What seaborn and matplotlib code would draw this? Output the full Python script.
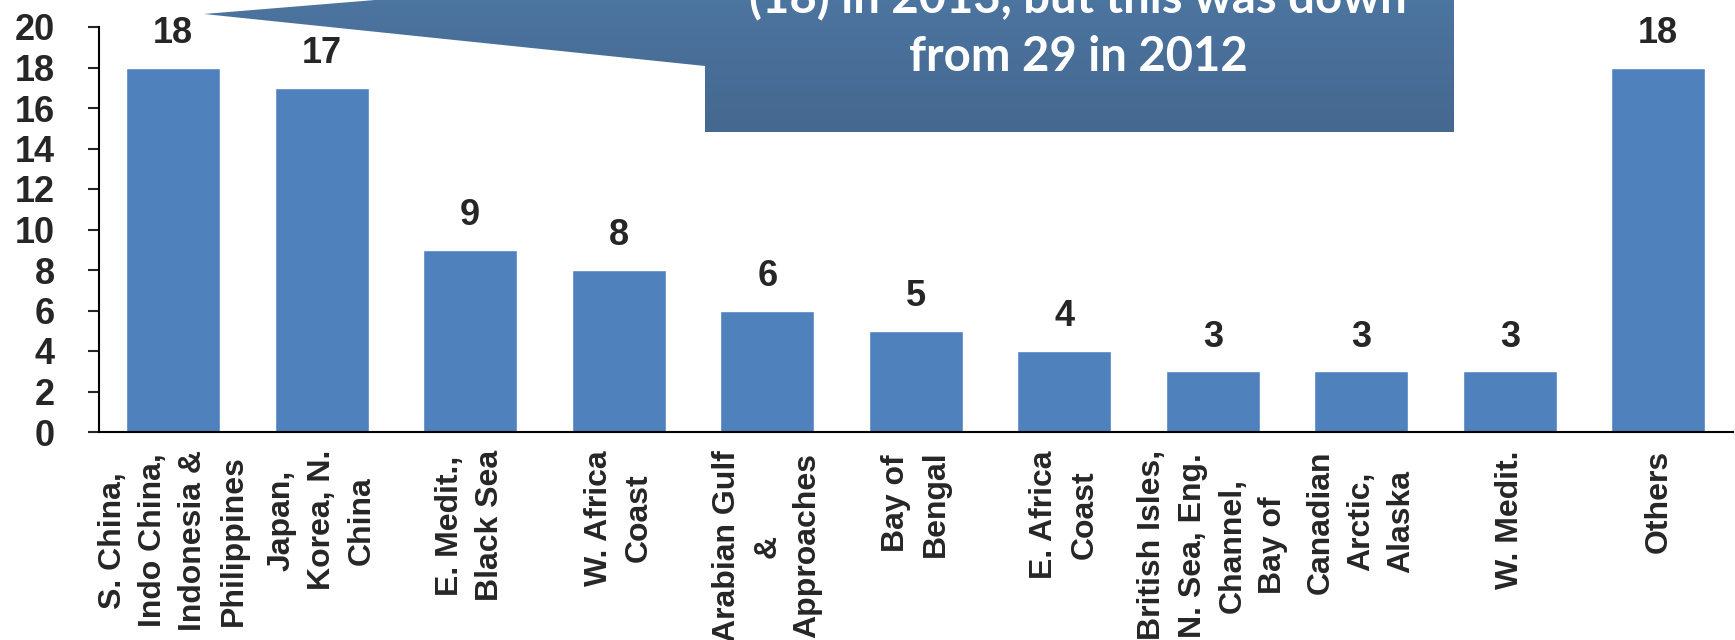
import numpy as np
import matplotlib
matplotlib.use("Agg")
import matplotlib.pyplot as plt
import seaborn as sns
from matplotlib.patches import Polygon

# 데이터
regions = ["S. China,\nIndo China,\nIndonesia &\nPhilippines",
           "Japan,\nKorea, N.\nChina",
           "E. Medit.,\nBlack Sea",
           "W. Africa\nCoast",
           "Arabian Gulf\n&\nApproaches",
           "Bay of\nBengal",
           "E. Africa\nCoast",
           "British Isles,\nN. Sea, Eng.\nChannel,\nBay of",
           "Canadian\nArctic,\nAlaska",
           "W. Medit.",
           "Others"]
losses = [18, 17, 9, 8, 6, 5, 4, 3, 3, 3, 18]
yticks = list(range(0, 21, 2))
callout_lines = ["(18) in 2013, but this was down", "from 29 in 2012"]

sns.set_style("white")
plt.rcParams['font.family'] = ['Liberation Sans', 'DejaVu Sans']

W, H = 1735, 640
fig = plt.figure(figsize=(W / 100, H / 100), dpi=100)
ax = fig.add_axes([99 / W, 1 - 432 / H, (1732.5 - 99) / W, (432 - 27) / H])

sns.barplot(x=regions, y=losses, color="#4F81BD", saturation=1,
            width=0.633, ax=ax)
ax.bar_label(ax.containers[0], padding=12, fontsize=26, fontweight='bold')

ax.set_xlim(-0.5, len(regions) - 0.5)
ax.set_ylim(0, 20)
ax.set_yticks(yticks)
ax.set_yticklabels([str(t) for t in yticks], fontsize=26, fontweight='bold')
ax.set_xticks(np.arange(-0.5, len(regions)), minor=True)
ax.tick_params(axis='x', which='major', length=0, pad=13)
ax.tick_params(axis='x', which='minor', length=7, width=1.5, direction='out')
ax.tick_params(axis='y', length=8, width=1.5, direction='out', pad=24, left=True)
for lbl in ax.get_xticklabels():
    lbl.set_rotation(90)
    lbl.set_fontsize(23)
    lbl.set_fontweight('bold')
    lbl.set_linespacing(1.45)
    lbl.set_multialignment('center')
    lbl.set_verticalalignment('top')
    lbl.set_horizontalalignment('center')
ax.set_xlabel("")
ax.set_ylabel("")
sns.despine(ax=ax)
for s in ['left', 'bottom']:
    ax.spines[s].set_linewidth(1.5)
    ax.spines[s].set_color('black')

# 말풍선 (픽셀 좌표 오버레이)
ov = fig.add_axes([0, 0, 1, 1], zorder=5)
ov.set_xlim(0, W)
ov.set_ylim(H, 0)
ov.axis('off')
ov.patch.set_visible(False)
shape = Polygon([(705, -80), (1454, -80), (1454, 132), (705, 132),
                 (705, 66), (204, 14), (705, -27)], closed=True,
                facecolor='none', edgecolor='none')
ov.add_patch(shape)
top_c = np.array([80, 124, 170]) / 255
bot_c = np.array([69, 104, 143]) / 255
t = np.linspace(0, 1, 256)[:, None, None]
grad = top_c * (1 - t) + bot_c * t
img = ov.imshow(grad, extent=[204, 1454, 132, -80], aspect='auto',
                interpolation='bilinear')
img.set_clip_path(shape)
ov.set_xlim(0, W)
ov.set_ylim(H, 0)
ov.text(1078, 13, callout_lines[0], color='white', fontsize=34,
        fontweight='bold', family=['Lato', 'DejaVu Sans'],
        ha='center', va='baseline')
ov.text(1078, 71, callout_lines[1], color='white', fontsize=34,
        fontweight='bold', family=['Lato', 'DejaVu Sans'],
        ha='center', va='baseline')

fig.savefig("out.png", dpi=100)
